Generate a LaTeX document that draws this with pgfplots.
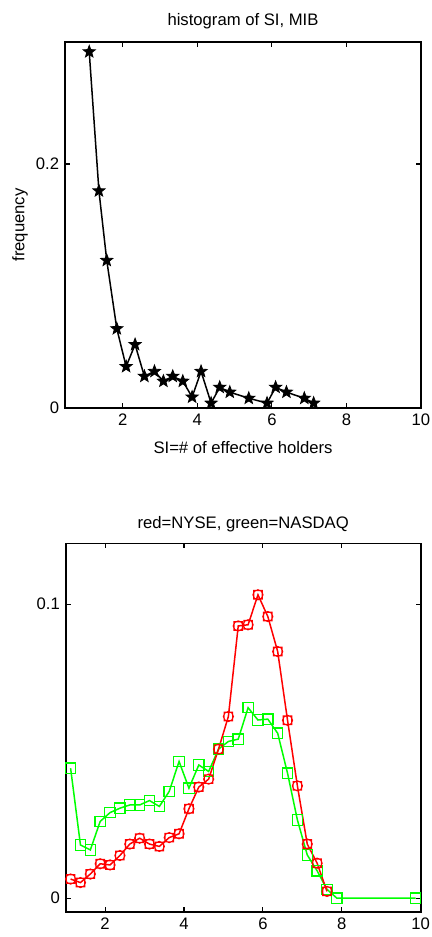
\documentclass[border=0pt]{standalone}
\usepackage{fontspec}
\setmainfont{Liberation Sans}
\usepackage{pgfplots}
\pgfplotsset{compat=1.18}

\definecolor{mred}{RGB}{255,0,0}
\definecolor{mgreen}{RGB}{0,255,0}

% filled five-point star, as MATLAB's 'p' marker
\pgfdeclareplotmark{fstar}{%
  \pgfpathmoveto{\pgfpointpolar{90}{\pgfplotmarksize}}%
  \pgfpathlineto{\pgfpointpolar{126}{0.42\pgfplotmarksize}}%
  \pgfpathlineto{\pgfpointpolar{162}{\pgfplotmarksize}}%
  \pgfpathlineto{\pgfpointpolar{198}{0.42\pgfplotmarksize}}%
  \pgfpathlineto{\pgfpointpolar{234}{\pgfplotmarksize}}%
  \pgfpathlineto{\pgfpointpolar{270}{0.42\pgfplotmarksize}}%
  \pgfpathlineto{\pgfpointpolar{306}{\pgfplotmarksize}}%
  \pgfpathlineto{\pgfpointpolar{342}{0.42\pgfplotmarksize}}%
  \pgfpathlineto{\pgfpointpolar{18}{\pgfplotmarksize}}%
  \pgfpathlineto{\pgfpointpolar{54}{0.42\pgfplotmarksize}}%
  \pgfpathclose\pgfusepathqfillstroke}
% circle with a square on top of it
\pgfdeclareplotmark{osq}{%
  \pgfpathcircle{\pgfpointorigin}{\pgfplotmarksize}%
  \pgfpathrectangle{\pgfqpoint{-0.85\pgfplotmarksize}{-0.85\pgfplotmarksize}}{\pgfqpoint{1.7\pgfplotmarksize}{1.7\pgfplotmarksize}}%
  \pgfusepathqstroke}

\pgfplotsset{
  mlab/.style={
    scale only axis,
    axis line style={line width=1pt},
    tick style={black, line width=0.7pt},
    major tick length=3pt,
    tick align=inside,
    /pgf/number format/assume math mode=true,
    every axis title/.style={anchor=center},
  }
}

\begin{document}
\begin{tikzpicture}
\useasboundingbox (0,0) rectangle (259.2pt,-562.2pt);

% top: histogram of SI
\begin{axis}[mlab,
  at={(39pt,-25.2pt)}, anchor=north west,
  width=213.6pt, height=219.6pt,
  xmin=0.45, xmax=10, ymin=0, ymax=0.3,
  xtick={2,4,6,8,10}, ytick={0,0.2},
  title={histogram of SI, MIB},
  title style={at={(axis description cs:0.5,1.057)}},
  xlabel={SI=\# of effective holders},
  xlabel style={at={(axis description cs:0.5,-0.109)}, anchor=center},
  ylabel={frequency},
  ylabel style={at={(axis description cs:-0.126,0.5)}, anchor=center},
]
\addplot[black, line width=0.9pt, mark=fstar, mark size=3.8pt,
  mark options={line width=0.5pt, fill=black}] coordinates {
  (1.10,0.292) (1.36,0.178) (1.57,0.121) (1.84,0.065) (2.09,0.034)
  (2.33,0.052) (2.58,0.026) (2.85,0.030) (3.09,0.022) (3.34,0.026)
  (3.61,0.022) (3.86,0.009) (4.10,0.030) (4.37,0.004) (4.60,0.017)
  (4.87,0.013) (5.38,0.008) (5.87,0.004) (6.10,0.017) (6.39,0.013)
  (6.87,0.008) (7.12,0.004)
};
\end{axis}

% bottom: NYSE vs NASDAQ
\begin{axis}[mlab,
  at={(39.4pt,-326pt)}, anchor=north west,
  width=213pt, height=221pt,
  xmin=1, xmax=10, ymin=-0.0046, ymax=0.1207,
  xtick={2,4,6,8,10}, ytick={0,0.1},
  title={red=NYSE, green=NASDAQ},
  title style={at={(axis description cs:0.5,1.052)}},
]
\addplot[mgreen, line width=0.9pt, mark=square, mark size=3.1pt,
  mark options={mgreen, line width=0.7pt}] coordinates {
  (1.125,0.0442) (1.375,0.0181) (1.625,0.0164) (1.875,0.0261) (2.125,0.0291)
  (2.375,0.0306) (2.625,0.0317) (2.875,0.0317) (3.125,0.0332) (3.375,0.0312)
  (3.625,0.0363) (3.875,0.0465) (4.125,0.0374) (4.375,0.0453) (4.625,0.0431)
  (4.875,0.0507) (5.125,0.0533) (5.375,0.0541) (5.625,0.0648) (5.875,0.0606)
  (6.125,0.0609) (6.375,0.0561) (6.625,0.0425) (6.875,0.0266) (7.125,0.0147)
  (7.375,0.0093) (7.625,0.0030) (7.875,0.0000) (9.875,0.0000)
};
\addplot[mred, line width=0.9pt, mark=osq, mark size=3pt,
  mark options={mred, line width=0.7pt}] coordinates {
  (1.125,0.0065) (1.375,0.0053) (1.625,0.0082) (1.875,0.0117) (2.125,0.0113)
  (2.375,0.0145) (2.625,0.0184) (2.875,0.0204) (3.125,0.0184) (3.375,0.0176)
  (3.625,0.0206) (3.875,0.0219) (4.125,0.0304) (4.375,0.0378) (4.625,0.0405)
  (4.875,0.0507) (5.125,0.0618) (5.375,0.0926) (5.625,0.0930) (5.875,0.1032)
  (6.125,0.0958) (6.375,0.0839) (6.625,0.0605) (6.875,0.0382) (7.125,0.0184)
  (7.375,0.0119) (7.625,0.0023)
};
\end{axis}
\end{tikzpicture}
\end{document}
